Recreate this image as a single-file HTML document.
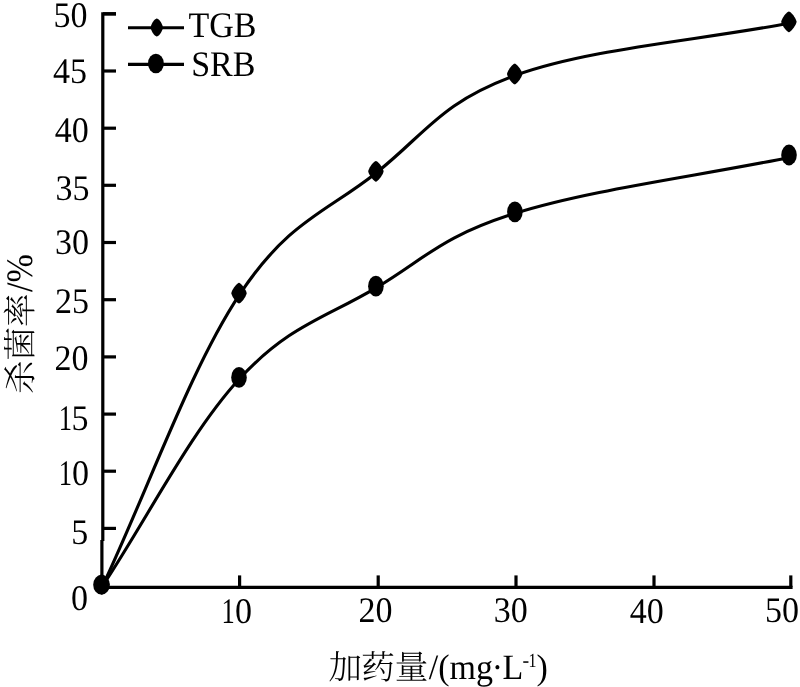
<!DOCTYPE html>
<html><head><meta charset="utf-8"><style>
html,body{margin:0;padding:0;background:#fff;width:800px;height:687px;overflow:hidden}
svg{display:block;text-rendering:geometricPrecision;filter:grayscale(1)}
.t{font-family:"Liberation Serif","Noto Serif CJK SC",serif;font-size:34px;fill:#000}
.c{font-family:"Noto Serif CJK SC","Liberation Serif",serif;font-weight:300;font-size:33.5px}
</style></head><body>
<svg width="800" height="687" viewBox="0 0 800 687">
<rect width="800" height="687" fill="#fff"/>
<g stroke="#000" stroke-width="3.2" fill="none" stroke-linecap="butt">
<polyline points="116,13.8 102.8,13.8 102.8,541"/>
<line x1="101.9" y1="540" x2="101.9" y2="589"/>
<line x1="100.4" y1="587.4" x2="792.6" y2="587.4"/>
<line x1="103" y1="13.8" x2="116" y2="13.8"/><line x1="103" y1="71.0" x2="116" y2="71.0"/><line x1="103" y1="128.2" x2="116" y2="128.2"/><line x1="103" y1="185.3" x2="116" y2="185.3"/><line x1="103" y1="242.5" x2="116" y2="242.5"/><line x1="103" y1="299.7" x2="116" y2="299.7"/><line x1="103" y1="356.9" x2="116" y2="356.9"/><line x1="103" y1="414.1" x2="116" y2="414.1"/><line x1="103" y1="471.2" x2="116" y2="471.2"/><line x1="103" y1="528.4" x2="116" y2="528.4"/>
<line x1="239.6" y1="575.4" x2="239.6" y2="587"/><line x1="378.2" y1="575.4" x2="378.2" y2="587"/><line x1="516" y1="575.4" x2="516" y2="587"/><line x1="654" y1="575.4" x2="654" y2="587"/><line x1="790.8" y1="575.4" x2="790.8" y2="587"/>
</g>
<g stroke="#000" stroke-width="3.1" fill="none">
<path d="M102.80,585.60 C148.37,488.60 190.25,368.92 239.50,294.60 C288.75,220.28 326.77,212.16 376.40,172.70 C426.03,133.24 440.86,102.31 515.20,75.40 C589.54,48.49 698.00,40.60 789.40,23.20"/>
<path d="M102.80,585.60 C148.37,516.67 190.25,432.44 239.50,378.80 C288.75,325.16 326.74,317.41 376.40,287.60 C426.06,257.79 441.04,236.64 515.40,213.20 C589.76,189.76 698.13,176.00 789.50,157.40"/>
<line x1="128" y1="27.7" x2="184" y2="27.7"/>
<line x1="128" y1="64.4" x2="184" y2="64.4"/>
</g>
<g fill="#000">
<polygon points="109.50,584.40 109.46,584.68 109.33,585.18 109.11,585.80 108.82,586.52 108.46,587.30 108.02,588.12 107.53,588.96 106.99,589.80 106.41,590.62 105.80,591.41 105.18,592.14 104.56,592.80 103.95,593.39 103.37,593.88 102.84,594.28 102.38,594.57 102.01,594.74 101.80,594.80 101.59,594.74 101.22,594.57 100.76,594.28 100.23,593.88 99.65,593.39 99.04,592.80 98.42,592.14 97.80,591.41 97.19,590.62 96.61,589.80 96.07,588.96 95.58,588.12 95.14,587.30 94.78,586.52 94.49,585.80 94.27,585.18 94.14,584.68 94.10,584.40 94.14,584.12 94.27,583.62 94.49,583.00 94.78,582.28 95.14,581.50 95.58,580.68 96.07,579.84 96.61,579.00 97.19,578.18 97.80,577.39 98.42,576.66 99.04,576.00 99.65,575.41 100.23,574.92 100.76,574.52 101.22,574.23 101.59,574.06 101.80,574.00 102.01,574.06 102.38,574.23 102.84,574.52 103.37,574.92 103.95,575.41 104.56,576.00 105.18,576.66 105.80,577.39 106.41,578.18 106.99,579.00 107.53,579.84 108.02,580.68 108.46,581.50 108.82,582.28 109.11,583.00 109.33,583.62 109.46,584.12"/><polygon points="246.70,293.20 246.66,293.48 246.53,293.98 246.31,294.60 246.02,295.32 245.66,296.10 245.22,296.92 244.73,297.76 244.19,298.60 243.61,299.42 243.00,300.21 242.38,300.94 241.76,301.60 241.15,302.19 240.57,302.68 240.04,303.08 239.58,303.37 239.21,303.54 239.00,303.60 238.79,303.54 238.42,303.37 237.96,303.08 237.43,302.68 236.85,302.19 236.24,301.60 235.62,300.94 235.00,300.21 234.39,299.42 233.81,298.60 233.27,297.76 232.78,296.92 232.34,296.10 231.98,295.32 231.69,294.60 231.47,293.98 231.34,293.48 231.30,293.20 231.34,292.92 231.47,292.42 231.69,291.80 231.98,291.08 232.34,290.30 232.78,289.48 233.27,288.64 233.81,287.80 234.39,286.98 235.00,286.19 235.62,285.46 236.24,284.80 236.85,284.21 237.43,283.72 237.96,283.32 238.42,283.03 238.79,282.86 239.00,282.80 239.21,282.86 239.58,283.03 240.04,283.32 240.57,283.72 241.15,284.21 241.76,284.80 242.38,285.46 243.00,286.19 243.61,286.98 244.19,287.80 244.73,288.64 245.22,289.48 245.66,290.30 246.02,291.08 246.31,291.80 246.53,292.42 246.66,292.92"/><polygon points="383.60,171.30 383.56,171.58 383.43,172.08 383.21,172.70 382.92,173.42 382.56,174.20 382.12,175.02 381.63,175.86 381.09,176.70 380.51,177.52 379.90,178.31 379.28,179.04 378.66,179.70 378.05,180.29 377.47,180.78 376.94,181.18 376.48,181.47 376.11,181.64 375.90,181.70 375.69,181.64 375.32,181.47 374.86,181.18 374.33,180.78 373.75,180.29 373.14,179.70 372.52,179.04 371.90,178.31 371.29,177.52 370.71,176.70 370.17,175.86 369.68,175.02 369.24,174.20 368.88,173.42 368.59,172.70 368.37,172.08 368.24,171.58 368.20,171.30 368.24,171.02 368.37,170.52 368.59,169.90 368.88,169.18 369.24,168.40 369.68,167.58 370.17,166.74 370.71,165.90 371.29,165.08 371.90,164.29 372.52,163.56 373.14,162.90 373.75,162.31 374.33,161.82 374.86,161.42 375.32,161.13 375.69,160.96 375.90,160.90 376.11,160.96 376.48,161.13 376.94,161.42 377.47,161.82 378.05,162.31 378.66,162.90 379.28,163.56 379.90,164.29 380.51,165.08 381.09,165.90 381.63,166.74 382.12,167.58 382.56,168.40 382.92,169.18 383.21,169.90 383.43,170.52 383.56,171.02"/><polygon points="522.40,74.00 522.36,74.28 522.23,74.78 522.01,75.40 521.72,76.12 521.36,76.90 520.92,77.72 520.43,78.56 519.89,79.40 519.31,80.22 518.70,81.01 518.08,81.74 517.46,82.40 516.85,82.99 516.27,83.48 515.74,83.88 515.28,84.17 514.91,84.34 514.70,84.40 514.49,84.34 514.12,84.17 513.66,83.88 513.13,83.48 512.55,82.99 511.94,82.40 511.32,81.74 510.70,81.01 510.09,80.22 509.51,79.40 508.97,78.56 508.48,77.72 508.04,76.90 507.68,76.12 507.39,75.40 507.17,74.78 507.04,74.28 507.00,74.00 507.04,73.72 507.17,73.22 507.39,72.60 507.68,71.88 508.04,71.10 508.48,70.28 508.97,69.44 509.51,68.60 510.09,67.78 510.70,66.99 511.32,66.26 511.94,65.60 512.55,65.01 513.13,64.52 513.66,64.12 514.12,63.83 514.49,63.66 514.70,63.60 514.91,63.66 515.28,63.83 515.74,64.12 516.27,64.52 516.85,65.01 517.46,65.60 518.08,66.26 518.70,66.99 519.31,67.78 519.89,68.60 520.43,69.44 520.92,70.28 521.36,71.10 521.72,71.88 522.01,72.60 522.23,73.22 522.36,73.72"/><polygon points="796.60,21.80 796.56,22.08 796.43,22.58 796.21,23.20 795.92,23.92 795.56,24.70 795.12,25.52 794.63,26.36 794.09,27.20 793.51,28.02 792.90,28.81 792.28,29.54 791.66,30.20 791.05,30.79 790.47,31.28 789.94,31.68 789.48,31.97 789.11,32.14 788.90,32.20 788.69,32.14 788.32,31.97 787.86,31.68 787.33,31.28 786.75,30.79 786.14,30.20 785.52,29.54 784.90,28.81 784.29,28.02 783.71,27.20 783.17,26.36 782.68,25.52 782.24,24.70 781.88,23.92 781.59,23.20 781.37,22.58 781.24,22.08 781.20,21.80 781.24,21.52 781.37,21.02 781.59,20.40 781.88,19.68 782.24,18.90 782.68,18.08 783.17,17.24 783.71,16.40 784.29,15.58 784.90,14.79 785.52,14.06 786.14,13.40 786.75,12.81 787.33,12.32 787.86,11.92 788.32,11.63 788.69,11.46 788.90,11.40 789.11,11.46 789.48,11.63 789.94,11.92 790.47,12.32 791.05,12.81 791.66,13.40 792.28,14.06 792.90,14.79 793.51,15.58 794.09,16.40 794.63,17.24 795.12,18.08 795.56,18.90 795.92,19.68 796.21,20.40 796.43,21.02 796.56,21.52"/><ellipse cx="239.0" cy="377.4" rx="7.8" ry="10.4"/><ellipse cx="375.9" cy="286.2" rx="7.8" ry="10.4"/><ellipse cx="514.9" cy="211.8" rx="7.8" ry="10.4"/><ellipse cx="789.0" cy="155.0" rx="7.8" ry="10.4"/><ellipse cx="101.5" cy="584.7" rx="8.3" ry="9.9"/>
<polygon points="162.90,27.50 162.87,27.85 162.78,28.37 162.62,28.98 162.41,29.65 162.15,30.35 161.84,31.07 161.48,31.79 161.08,32.49 160.64,33.17 160.18,33.81 159.71,34.40 159.22,34.93 158.73,35.39 158.26,35.78 157.81,36.09 157.39,36.32 157.04,36.45 156.80,36.50 156.56,36.45 156.21,36.32 155.79,36.09 155.34,35.78 154.87,35.39 154.38,34.93 153.89,34.40 153.42,33.81 152.96,33.17 152.52,32.49 152.12,31.79 151.76,31.07 151.45,30.35 151.19,29.65 150.98,28.98 150.82,28.37 150.73,27.85 150.70,27.50 150.73,27.15 150.82,26.63 150.98,26.02 151.19,25.35 151.45,24.65 151.76,23.93 152.12,23.21 152.52,22.51 152.96,21.83 153.42,21.19 153.89,20.60 154.38,20.07 154.87,19.61 155.34,19.22 155.79,18.91 156.21,18.68 156.56,18.55 156.80,18.50 157.04,18.55 157.39,18.68 157.81,18.91 158.26,19.22 158.73,19.61 159.22,20.07 159.71,20.60 160.18,21.19 160.64,21.83 161.08,22.51 161.48,23.21 161.84,23.93 162.15,24.65 162.41,25.35 162.62,26.02 162.78,26.63 162.87,27.15"/>
<ellipse cx="155.9" cy="63.5" rx="7.9" ry="9.8"/>
</g>
<g class="t">
<text transform="translate(70.55,27.25) scale(1,1.06)" text-anchor="middle">50</text><text transform="translate(70.0,83.2) scale(1,1.06)" text-anchor="middle">45</text><text transform="translate(71.8,141.9) scale(1,1.06)" text-anchor="middle">40</text><text transform="translate(72.45,200.0) scale(1,1.06)" text-anchor="middle">35</text><text transform="translate(72.1,254.1) scale(1,1.06)" text-anchor="middle">30</text><text transform="translate(72.1,312.85) scale(1,1.06)" text-anchor="middle">25</text><text transform="translate(71.55,370.1) scale(1,1.06)" text-anchor="middle">20</text><text transform="translate(65.4,429.85) scale(0.78,1.06)" text-anchor="middle">1</text><text transform="translate(80.05,429.85) scale(1,1.06)" text-anchor="middle">5</text><text transform="translate(65.4,485.15) scale(0.78,1.06)" text-anchor="middle">1</text><text transform="translate(80.5,485.15) scale(1,1.06)" text-anchor="middle">0</text><text transform="translate(79.85,543.85) scale(1,1.06)" text-anchor="middle">5</text><text transform="translate(79.6,610.15) scale(1,1.06)" text-anchor="middle">0</text>
<text transform="translate(228.1,622.7) scale(0.78,1.06)" text-anchor="middle">1</text><text transform="translate(243.6,622.7) scale(1,1.06)" text-anchor="middle">0</text><text transform="translate(375.45,621.75) scale(1,1.06)" text-anchor="middle">20</text><text transform="translate(510.7,621.7) scale(1,1.06)" text-anchor="middle">30</text><text transform="translate(646.7,622.8) scale(1,1.06)" text-anchor="middle">40</text><text transform="translate(782.0,621.7) scale(1,1.06)" text-anchor="middle">50</text>
<text transform="translate(222.5,36.7) scale(1,1.06)" text-anchor="middle">TGB</text>
<text transform="translate(223.3,76.45) scale(1,1.06)" text-anchor="middle">SRB</text>
<text transform="translate(328.5,678.5) scale(1,1)" class="c">加</text><text transform="translate(361.3,678.5) scale(1,1)" class="c">药量</text>
<text transform="translate(428.8,678.5) scale(1,1.05)">/(mg</text><text transform="translate(491.7,678.5) scale(1,1.05)">·</text>
<text transform="translate(502.5,678.5) scale(1,1.05)">L</text>
<text transform="translate(522.6,666.5) scale(1,1.05)" font-size="20">-</text>
<text transform="translate(528.4,666.5) scale(0.8,1.0)" font-size="20">1</text>
<text transform="translate(536.5,678.5) scale(1,1.05)">)</text>
<g transform="translate(31.5,394) rotate(-90)">
<text transform="translate(0,0) scale(1,1)" class="c">杀菌率</text>
<text transform="translate(102,0) scale(1,1.1)">/%</text>
</g>
</g>
</svg>
</body></html>
